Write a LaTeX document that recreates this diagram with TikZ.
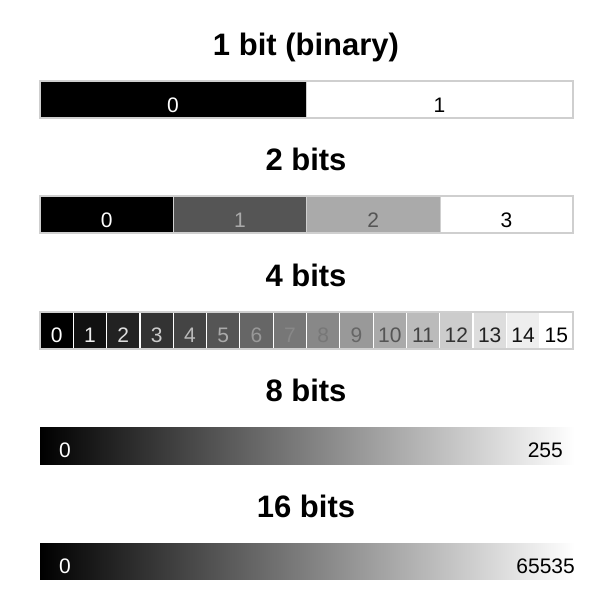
\documentclass[tikz,border=0pt]{standalone}
\usepackage{fontspec}
\setmainfont{Liberation Sans}
\usetikzlibrary{positioning}
\definecolor{barline}{HTML}{CFCFCF}

\begin{document}
\begin{tikzpicture}[x=1pt,y=-1pt,
    bartitle/.style={font=\bfseries\fontsize{31}{31}\selectfont, anchor=base, inner sep=0pt},
    celllabel/.style={font=\fontsize{21}{21}\selectfont, anchor=base, inner sep=0pt},
    smallcell/.style={font=\fontsize{21}{21}\selectfont, anchor=base, inner sep=0pt}]
\useasboundingbox (0,0) rectangle (616,614);
% Titles
\foreach \t/\y/\txt in {1/55/1 bit (binary), 2/170/2 bits, 4/286/4 bits, 8/401/8 bits, 16/517/16 bits} {
    \node[bartitle] (title\t) at (306,\y) {\txt};
}
% 1 bit
\foreach \k in {0,1} {
    \pgfmathsetmacro\g{100*\k}
    \pgfmathsetmacro\h{100-\g}
    \draw[barline, fill=white!\g!black] (40+266.5*\k,81) rectangle (306.5+266.5*\k,118);
    \node[celllabel, text=white!\h!black] (one\k) at (173+266.5*\k,112.7) {\k};
}
\draw[barline, line width=1.5pt] (40,81) rectangle (573,118);
% 2 bits
\foreach \k in {0,...,3} {
    \pgfmathsetmacro\g{100*\k/3}
    \pgfmathsetmacro\h{100-\g}
    \draw[barline, fill=white!\g!black] (40+133.25*\k,196) rectangle (173.25+133.25*\k,233);
    \node[celllabel, text=white!\h!black] (two\k) at (106.6+133.25*\k,227.7) {\k};
}
\draw[barline, line width=1.5pt] (40,196) rectangle (573,233);
% 4 bits
\foreach \k in {0,...,15} {
    \pgfmathsetmacro\g{100*\k/15}
    \pgfmathsetmacro\h{100-\g}
    \draw[white, line width=1.2pt, fill=white!\g!black] (40+33.3125*\k,312) rectangle (73.3125+33.3125*\k,349);
    \node[smallcell, text=white!\h!black] (four\k) at (56.66+33.3125*\k,342.7) {\k};
}
\draw[barline, line width=1.5pt] (40,312) rectangle (573,349);
% 8 bits and 16 bits, smooth ramps
\shade[left color=black, right color=white] (40,427) rectangle (575,464);
\node[celllabel, text=white] (eight0) at (65,457.3) {0};
\node[celllabel, anchor=base east] (eight255) at (563,457.3) {255};
\shade[left color=black, right color=white] (40,543) rectangle (575,579);
\node[celllabel, text=white] (sixteen0) at (65,573) {0};
\node[celllabel, anchor=base east] (sixteenmax) at (575,573) {65535};
\end{tikzpicture}
\end{document}
